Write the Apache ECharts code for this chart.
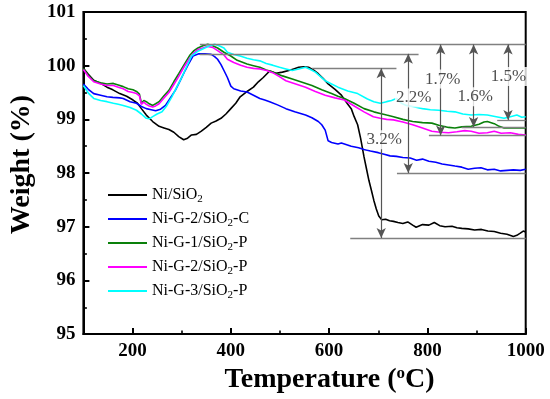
<!DOCTYPE html>
<html>
<head>
<meta charset="utf-8">
<script src="https://cdn.jsdelivr.net/npm/echarts@6/dist/echarts.min.js"></script>
<style>html,body{margin:0;padding:0;background:#fff}#c{width:550px;height:399px}</style>
</head>
<body>
<div id="c"></div>
<script>
const seriesNames = ['Ni/SiO2', 'Ni-G-2/SiO2-C', 'Ni-G-1/SiO2-P', 'Ni-G-2/SiO2-P', 'Ni-G-3/SiO2-P'];
const seriesColors = ['#000000', '#0000ff', '#0a800a', '#ff00ff', '#00ffff'];
const xTickLabels = [200, 400, 600, 800, 1000];
const xMinorTicks = [300, 500, 700, 900];

const niSiO2 = [[100,99.95],[110,99.84],[121,99.73],[135,99.67],[148,99.6],[160,99.55],[174,99.48],[188,99.43],[201,99.36],[210,99.3],[218,99.2],[228,99.08],[241,98.96],[254,98.87],[264,98.84],[274,98.81],[284,98.76],[294,98.68],[304,98.62],[312,98.65],[320,98.71],[330,98.72],[340,98.78],[350,98.85],[360,98.93],[370,98.97],[380,99.02],[390,99.1],[400,99.2],[410,99.3],[419,99.42],[430,99.5],[446,99.6],[456,99.7],[466,99.78],[479,99.9],[492,99.86],[505,99.88],[518,99.91],[528,99.94],[538,99.97],[548,99.98],[558,99.97],[568,99.92],[578,99.85],[588,99.76],[598,99.66],[612,99.56],[625,99.45],[638,99.28],[645,99.2],[651,99.05],[658,98.9],[664,98.65],[671,98.3],[676,98.08],[681,97.86],[686,97.68],[691,97.49],[696,97.33],[701,97.2],[707,97.13],[715,97.14],[723,97.11],[731,97.1],[740,97.08],[750,97.06],[760,97.09],[770,97.03],[777,96.99],[790,97.04],[803,97.03],[814,97.08],[825,97.02],[836,97.0],[850,97.01],[860,96.98],[870,96.97],[883,96.96],[896,96.94],[910,96.95],[923,96.92],[936,96.91],[949,96.88],[962,96.86],[975,96.82],[982,96.84],[989,96.88],[995,96.92],[1000,96.9]];

const niG2C = [[100,99.66],[110,99.56],[121,99.48],[135,99.45],[148,99.42],[160,99.41],[174,99.4],[181,99.39],[195,99.33],[208,99.3],[218,99.24],[228,99.2],[238,99.18],[247,99.16],[257,99.19],[267,99.26],[277,99.4],[287,99.54],[297,99.72],[307,99.91],[315,100.05],[323,100.18],[335,100.22],[347,100.22],[360,100.21],[367,100.17],[373,100.12],[380,100.02],[386,99.91],[393,99.78],[400,99.62],[406,99.57],[420,99.53],[433,99.51],[446,99.45],[459,99.39],[469,99.36],[479,99.33],[495,99.27],[512,99.2],[530,99.14],[552,99.08],[565,99.03],[578,98.96],[585,98.9],[592,98.8],[598,98.6],[605,98.57],[618,98.54],[625,98.56],[645,98.5],[660,98.47],[671,98.44],[684,98.41],[700,98.38],[712,98.35],[724,98.32],[737,98.31],[750,98.29],[765,98.28],[778,98.24],[790,98.26],[803,98.22],[817,98.2],[830,98.17],[843,98.15],[856,98.13],[870,98.11],[883,98.07],[896,98.09],[909,98.1],[922,98.06],[936,98.07],[949,98.04],[962,98.05],[975,98.06],[989,98.05],[1000,98.07]];

const niG1P = [[100,99.95],[110,99.82],[121,99.72],[135,99.68],[148,99.66],[161,99.67],[171,99.64],[181,99.61],[191,99.57],[201,99.55],[208,99.52],[214,99.47],[218,99.3],[223,99.35],[228,99.33],[234,99.29],[241,99.26],[247,99.29],[254,99.33],[264,99.44],[274,99.54],[284,99.7],[294,99.85],[305,100.02],[317,100.2],[325,100.28],[333,100.33],[343,100.37],[353,100.4],[363,100.37],[373,100.33],[386,100.25],[400,100.18],[413,100.1],[433,100.03],[446,100.0],[459,99.97],[472,99.92],[486,99.88],[505,99.81],[525,99.75],[545,99.69],[565,99.63],[585,99.55],[605,99.48],[618,99.43],[631,99.39],[651,99.3],[671,99.2],[691,99.14],[704,99.11],[717,99.08],[731,99.05],[750,99.0],[770,98.96],[790,98.94],[809,98.93],[823,98.89],[843,98.85],[856,98.84],[870,98.86],[889,98.87],[905,98.91],[915,98.95],[922,98.96],[936,98.92],[946,98.87],[956,98.84],[975,98.84],[1000,98.84]];

const niG2P = [[100,99.93],[110,99.8],[121,99.7],[135,99.66],[148,99.63],[161,99.63],[171,99.6],[181,99.57],[191,99.52],[201,99.5],[208,99.48],[214,99.44],[218,99.28],[223,99.32],[228,99.28],[234,99.25],[241,99.23],[247,99.25],[254,99.29],[264,99.4],[274,99.5],[284,99.65],[294,99.8],[305,99.98],[317,100.15],[325,100.24],[333,100.3],[343,100.33],[353,100.36],[363,100.34],[373,100.28],[386,100.2],[393,100.12],[406,100.06],[420,100.01],[433,99.97],[446,99.95],[459,99.94],[473,99.91],[485,99.87],[498,99.8],[512,99.72],[532,99.66],[552,99.6],[572,99.52],[592,99.45],[612,99.4],[631,99.36],[651,99.25],[671,99.14],[690,99.05],[704,99.02],[717,99.0],[731,98.99],[750,98.95],[770,98.9],[790,98.84],[809,98.78],[826,98.76],[843,98.75],[860,98.77],[876,98.79],[889,98.78],[905,98.74],[922,98.75],[936,98.78],[950,98.74],[969,98.75],[985,98.72],[1000,98.71]];

const niG3P = [[100,99.63],[110,99.49],[121,99.39],[135,99.35],[148,99.33],[161,99.3],[171,99.28],[181,99.26],[195,99.22],[208,99.17],[218,99.1],[228,99.02],[234,99.01],[241,99.05],[250,99.1],[260,99.14],[270,99.26],[280,99.42],[290,99.6],[300,99.78],[310,99.98],[320,100.18],[333,100.27],[347,100.33],[357,100.37],[367,100.4],[376,100.37],[386,100.33],[393,100.25],[406,100.21],[419,100.18],[433,100.14],[446,100.11],[459,100.09],[472,100.04],[485,100.01],[499,99.97],[512,99.94],[525,99.91],[538,99.94],[552,99.97],[562,99.93],[572,99.88],[582,99.8],[592,99.72],[605,99.66],[618,99.6],[638,99.53],[658,99.48],[678,99.38],[691,99.33],[704,99.3],[717,99.33],[727,99.35],[737,99.39],[747,99.3],[757,99.26],[770,99.24],[790,99.2],[806,99.18],[823,99.17],[840,99.15],[856,99.14],[872,99.1],[889,99.08],[905,99.09],[922,99.08],[940,99.05],[956,99.02],[969,99.05],[982,99.08],[992,99.04],[1000,99.05]];

const seriesData = [niSiO2, niG2C, niG1P, niG2P, niG3P];

// guide lines: [T start, T end, weight]
const guideLines = [[337,1000,100.395],[337,782,100.22],[565,737,99.95],[643,1000,96.79],[738,1000,98.0],[803,1000,98.70],[870,1000,98.86],[942,1000,98.99]];
// arrows: [T, top weight, bottom weight]
const arrows = [[706,99.95,96.79],[761,100.22,98.0],[827,100.395,98.70],[894,100.395,98.86],[964,100.395,98.99]];
// percentage labels: [T, weight, text]
const lossLabels = [[712,98.62,'3.2%'],[772,99.40,'2.2%'],[831,99.75,'1.7%'],[897,99.42,'1.6%'],[965,99.80,'1.5%']];

const FONT = 'Liberation Serif';
const chart = echarts.init(document.getElementById('c'), null, {renderer: 'canvas'});

function legendFmt(name) {
  const k = name.indexOf('SiO2');
  const pre = name.slice(0, k + 3);
  const post = name.slice(k + 4);
  return '{n|' + pre + '}{s|2}' + (post ? '{n|' + post + '}' : '');
}

const lineSeries = seriesNames.map((nm, i) => ({
  name: nm, type: 'line', data: seriesData[i], symbol: 'none', showSymbol: false,
  lineStyle: {color: seriesColors[i], width: 1.6}, itemStyle: {color: seriesColors[i]},
  z: 3, silent: true
}));

const markLineData = guideLines.map(g => [
  {coord: [g[0], g[2]], symbol: 'none', lineStyle: {color: '#808080', width: 1.3, type: 'solid'}},
  {coord: [g[1], g[2]], symbol: 'none'}
]).concat(arrows.map(a => [
  {coord: [a[0], a[1]], symbol: 'arrow', lineStyle: {color: '#555', width: 1.2, type: 'solid'}},
  {coord: [a[0], a[2]], symbol: 'arrow'}
]));

const option = {
  animation: false,
  backgroundColor: '#fff',
  grid: {left: 72.5, right: 24.3, top: 12, bottom: 59.7, show: true, borderColor: '#000', borderWidth: 2, backgroundColor: 'transparent'},
  legend: {
    data: seriesNames.map(n => ({name: n, icon: 'rect'})), orient: 'vertical', left: 108, top: 187, padding: 0,
    itemWidth: 39, itemHeight: 2, itemGap: 6, selectedMode: false,
    formatter: legendFmt,
    textStyle: {
      fontFamily: FONT, color: '#000', fontSize: 16,
      rich: {
        n: {fontFamily: FONT, fontSize: 16, color: '#000', lineHeight: 20},
        s: {fontFamily: FONT, fontSize: 11, color: '#000', lineHeight: 11, verticalAlign: 'bottom'}
      }
    }
  },
  xAxis: [{
    type: 'value', min: 100, max: 1000, interval: 100,
    name: '{a|Temperature (}{sup|o}{a|C)}', nameLocation: 'middle', nameGap: 24,
    nameTextStyle: {
      padding: [0, 0, 0, 50],
      rich: {
        a: {fontFamily: FONT, fontSize: 28, fontWeight: 'bold', color: '#000', lineHeight: 30},
        sup: {fontFamily: FONT, fontSize: 17, fontWeight: 'bold', color: '#000', lineHeight: 17, verticalAlign: 'top'}
      }
    },
    axisLine: {show: true, lineStyle: {color: '#000', width: 2}},
    axisTick: {show: true, inside: true, length: 6, lineStyle: {color: '#000', width: 2}, customValues: xTickLabels},
    axisLabel: {show: true, customValues: xTickLabels, formatter: v => String(v), fontFamily: FONT, fontSize: 19, fontWeight: 'bold', color: '#000', margin: 7},
    splitLine: {show: false}
  }, {
    type: 'value', min: 100, max: 1000, interval: 100, position: 'bottom', gridIndex: 0,
    axisLine: {show: false}, axisLabel: {show: false}, splitLine: {show: false},
    axisTick: {show: true, inside: true, length: 3.5, lineStyle: {color: '#000', width: 1.6}, customValues: xMinorTicks}
  }],
  yAxis: {
    type: 'value', min: 95, max: 101, interval: 1,
    name: 'Weight (%)', nameLocation: 'middle', nameGap: 42,
    nameTextStyle: {fontFamily: FONT, fontSize: 28, fontWeight: 'bold', color: '#000', padding: [0, 0, 0, 17]},
    axisLine: {show: true, lineStyle: {color: '#000', width: 2}},
    axisTick: {show: true, inside: true, length: 6, lineStyle: {color: '#000', width: 2}},
    minorTick: {show: true, splitNumber: 2, length: 3.5, lineStyle: {color: '#000', width: 1.6}},
    axisLabel: {fontFamily: FONT, fontSize: 19, fontWeight: 'bold', color: '#000', margin: 8},
    splitLine: {show: false}
  },
  series: [{
    name: 'guides', type: 'line', data: [], silent: true, z: 2,
    markLine: {silent: true, animation: false, symbolSize: [7, 10], label: {show: false}, emphasis: {disabled: true}, data: markLineData}
  }].concat(lineSeries).concat([{
    name: 'losses', type: 'scatter', data: lossLabels, symbolSize: 1, itemStyle: {color: 'rgba(0,0,0,0)'}, silent: true, z: 5,
    label: {show: true, position: 'inside', formatter: p => p.data[2], fontFamily: FONT, fontSize: 17, color: '#222', backgroundColor: '#fff', padding: [1, 1]}
  }])
};
chart.setOption(option);
</script>
</body>
</html>
